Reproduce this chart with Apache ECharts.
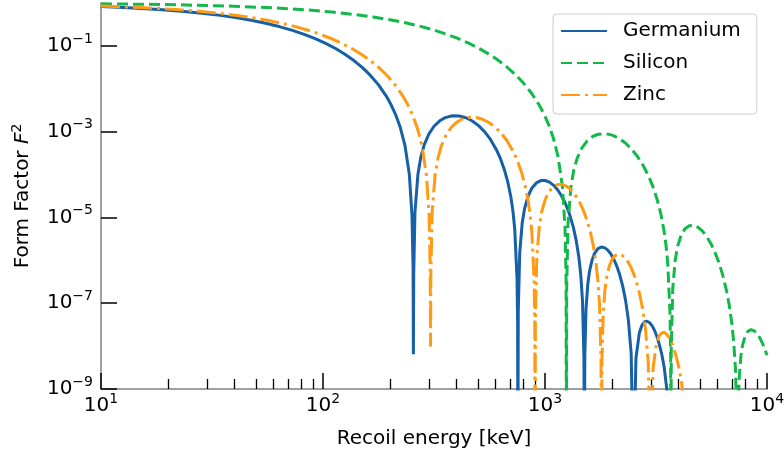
<!DOCTYPE html>
<html>
<head>
<meta charset="utf-8">
<script src="https://cdn.jsdelivr.net/npm/echarts@6/dist/echarts.min.js"></script>
<style>
html,body{margin:0;padding:0;background:#fff;}
#chart{width:784px;height:454px;}
</style>
</head>
<body>
<div id="chart"></div>
<script>
// Recoil energy [keV] and form factor F^2
const germaniumE = [10, 12.65, 18.22, 23.05, 28.46, 34.44, 40.99, 48.10, 55.79, 64.04, 72.86, 82.26, 92.22, 102.75, 113.9, 125.52, 137.8, 150.57, 163.9, 177.89, 192.4, 202.4, 212.6, 223.15, 233.9, 244.9, 251.6, 254.5, 255.4, 256.2, 259.6, 267.7, 275.88, 285.4, 300.02, 316.3, 335.51, 355.3, 382.66, 411.0, 440.35, 470.7, 502.08, 534.5, 567.86, 602.3, 628.74, 655.8, 679.67, 702.1, 717.27, 730.7, 748.1, 752.9, 754.9, 757.8, 769.6, 789.49, 809.6, 840.24, 871.5, 913.96, 957.5, 1002.0, 1047.5, 1094.1, 1141.7, 1190.2, 1239.8, 1290.4, 1342.0, 1381.4, 1421.4, 1448.3, 1475.5, 1497.4, 1504.1, 1511.2, 1530.7, 1558.6, 1586.8, 1629.6, 1673.0, 1731.7, 1791.4, 1852.1, 1913.8, 1976.6, 2046.8, 2105.1, 2170.9, 2237.7, 2305.5, 2374.3, 2444.1, 2502.9, 2568.7, 2659.7, 2733.5, 2808.4, 2884.3, 2961.2, 3039.2, 3118.1, 3198.0, 3279.0, 3361.0, 3443.9, 3613.0];
const germaniumF2 = [0.8286, 0.7878, 0.7079, 0.6444, 0.5795, 0.5146, 0.4509, 0.3896, 0.3318, 0.2782, 0.2294, 0.1857, 0.1475, 0.1145, 0.08674, 0.06386, 0.04547, 0.03110, 0.02023, 0.01232, 0.006837, 0.004290, 0.002465, 0.001234, 4.804e-4, 9.995e-5, 1.153e-5, 7.28e-7, 6.5e-9, 4.44e-7, 1.355e-5, 1.021e-4, 2.563e-4, 4.869e-4, 8.898e-4, 1.337e-3, 1.792e-3, 2.124e-3, 2.347e-3, 2.326e-3, 2.112e-3, 1.774e-3, 1.383e-3, 9.974e-4, 6.588e-4, 3.906e-4, 2.401e-4, 1.313e-4, 6.721e-5, 2.948e-5, 1.384e-5, 5.255e-6, 3.808e-7, 3.18e-8, 1e-11, 6.34e-8, 1.529e-6, 7.450e-6, 1.631e-5, 3.204e-5, 4.777e-5, 6.379e-5, 7.221e-5, 7.263e-5, 6.648e-5, 5.599e-5, 4.350e-5, 3.115e-5, 2.031e-5, 1.183e-5, 5.871e-6, 2.952e-6, 1.162e-6, 4.734e-7, 1.133e-7, 5.44e-9, 1e-11, 5.99e-9, 7.523e-8, 2.776e-7, 5.547e-7, 1.021e-6, 1.453e-6, 1.869e-6, 2.035e-6, 1.980e-6, 1.751e-6, 1.424e-6, 1.032e-6, 7.348e-7, 4.588e-7, 2.539e-7, 1.183e-7, 4.082e-8, 6.76e-9, 1e-11, 5.27e-9, 2.012e-8, 3.071e-8, 3.685e-8, 3.804e-8, 3.513e-8, 2.960e-8, 2.290e-8, 1.634e-8, 1.057e-8, 6.289e-9, 3.18e-9, 3.9e-10];

const siliconE = [10, 15.46, 22.27, 39.58, 61.85, 89.06, 112.72, 139.2, 168.39, 200.4, 235.18, 272.8, 313.12, 356.3, 402.18, 450.9, 502.38, 556.7, 613.71, 673.5, 736.17, 801.6, 869.77, 940.7, 989.6, 1039.7, 1091.0, 1143.6, 1197.4, 1230.3, 1244.1, 1248.8, 1252.5, 1269.2, 1308.8, 1348.9, 1395.5, 1466.9, 1546.3, 1640.4, 1737.4, 1871.0, 2009.5, 2153.0, 2301.4, 2454.8, 2613.2, 2776.4, 2944.7, 3074.1, 3206.3, 3323.1, 3432.8, 3507.0, 3572.5, 3657.6, 3681.4, 3691.1, 3705.3, 3763.0, 3860.1, 3958.4, 4108.2, 4260.8, 4468.7, 4681.4, 4899.1, 5121.8, 5349.4, 5582.0, 5819.5, 6061.9, 6309.3, 6561.7, 6754.2, 6949.5, 7081.2, 7214.2, 7321.4, 7353.9, 7388.9, 7483.9, 7620.5, 7758.5, 7967.7, 8179.7, 8466.6, 8758.6, 9055.5, 9357.3, 9664.1, 10000];
const siliconF2 = [0.9576, 0.9352, 0.9079, 0.8417, 0.7632, 0.6763, 0.6082, 0.5396, 0.4720, 0.4068, 0.3453, 0.2885, 0.2369, 0.1911, 0.1511, 0.1170, 0.08848, 0.06519, 0.04661, 0.03219, 0.02132, 0.01341, 0.007882, 0.004220, 0.002582, 0.001446, 7.051e-4, 2.672e-4, 5.407e-5, 6.14e-6, 3.85e-7, 1e-11, 2.34e-7, 7.065e-6, 5.217e-5, 1.283e-4, 2.380e-4, 4.192e-4, 6.047e-4, 7.724e-4, 8.709e-4, 8.987e-4, 8.296e-4, 6.997e-4, 5.447e-4, 3.925e-4, 2.610e-4, 1.586e-4, 8.622e-5, 4.959e-5, 2.533e-5, 1.222e-5, 5.065e-6, 2.289e-6, 8.404e-7, 5.83e-8, 4.81e-9, 1e-11, 9.47e-9, 2.218e-7, 1.029e-6, 2.140e-6, 3.896e-6, 5.370e-6, 6.444e-6, 6.542e-6, 5.884e-6, 4.806e-6, 3.599e-6, 2.483e-6, 1.574e-6, 9.066e-7, 4.648e-7, 2.027e-7, 9.232e-8, 3.290e-8, 1.252e-8, 2.80e-9, 1.27e-10, 1e-11, 1.35e-10, 1.618e-9, 5.565e-9, 1.036e-8, 1.713e-8, 2.188e-8, 2.427e-8, 2.276e-8, 1.901e-8, 1.442e-8, 1.001e-8, 6.1e-9];

const zincE = [10, 15.11, 21.76, 27.54, 34.0, 41.14, 48.96, 57.46, 66.64, 76.49, 87.03, 98.25, 110.2, 122.73, 136.0, 149.93, 164.5, 179.85, 195.8, 212.48, 229.8, 241.76, 254.0, 266.54, 279.4, 292.5, 300.6, 303.9, 305.1, 306.0, 310.1, 319.7, 329.53, 340.9, 358.36, 377.8, 400.75, 424.4, 457.08, 490.9, 525.98, 562.2, 599.72, 638.4, 678.29, 719.4, 751.0, 783.3, 811.84, 838.6, 856.75, 872.7, 893.5, 899.4, 901.8, 905.2, 919.3, 943.02, 967.0, 1003.6, 1040.9, 1091.7, 1143.7, 1196.9, 1251.3, 1306.9, 1363.7, 1421.7, 1480.9, 1541.4, 1603.0, 1650.1, 1697.8, 1729.9, 1762.4, 1788.6, 1796.6, 1805.1, 1828.3, 1861.7, 1895.4, 1946.5, 1998.3, 2068.4, 2139.7, 2212.3, 2286.0, 2360.9, 2444.8, 2514.5, 2593.0, 2672.8, 2753.8, 2836.0, 2919.4, 2989.6, 3068.3, 3176.9, 3265.1, 3354.6, 3445.2, 3537.1, 3630.2, 3724.5, 3820.0, 3916.7, 4014.6, 4113.7, 4315.6];
const zincF2 = [0.8530, 0.7857, 0.7052, 0.6413, 0.5760, 0.5108, 0.4470, 0.3857, 0.3279, 0.2744, 0.2259, 0.1825, 0.1446, 0.1120, 0.08467, 0.06218, 0.04417, 0.03013, 0.01954, 0.01186, 0.006564, 0.004110, 0.002357, 0.001177, 4.572e-4, 9.489e-5, 1.094e-5, 6.90e-7, 9.8e-9, 4.21e-7, 1.282e-5, 9.647e-5, 2.417e-4, 4.584e-4, 8.350e-4, 1.250e-3, 1.669e-3, 1.970e-3, 2.164e-3, 2.132e-3, 1.924e-3, 1.606e-3, 1.243e-3, 8.905e-4, 5.842e-4, 3.438e-4, 2.101e-4, 1.142e-4, 5.819e-5, 2.540e-5, 1.189e-5, 4.501e-6, 3.250e-7, 2.71e-8, 1e-11, 5.40e-8, 1.299e-6, 6.302e-6, 1.374e-5, 2.682e-5, 3.972e-5, 5.255e-5, 5.897e-5, 5.876e-5, 5.326e-5, 4.439e-5, 3.417e-5, 2.421e-5, 1.563e-5, 8.998e-6, 4.421e-6, 2.203e-6, 8.606e-7, 3.483e-7, 8.289e-8, 3.97e-9, 1e-11, 4.35e-9, 5.440e-8, 1.995e-7, 3.964e-7, 7.228e-7, 1.020e-6, 1.295e-6, 1.392e-6, 1.337e-6, 1.168e-6, 9.364e-7, 6.693e-7, 4.705e-7, 2.897e-7, 1.581e-7, 7.253e-8, 2.469e-8, 4.03e-9, 1e-11, 3.06e-9, 1.145e-8, 1.722e-8, 2.032e-8, 2.066e-8, 1.877e-8, 1.555e-8, 1.182e-8, 8.297e-9, 5.27e-9, 3.088e-9, 1.535e-9, 1.83e-10];

const seriesNames = ['Germanium', 'Silicon', 'Zinc'];
const xMajorTicks = [10, 100, 1000, 10000];
const xMinorTicks = [20, 30, 40, 50, 60, 70, 80, 90, 200, 300, 400, 500, 600, 700, 800, 900, 2000, 3000, 4000, 5000, 6000, 7000, 8000, 9000];
const yTicks = [1e-9, 1e-7, 1e-5, 1e-3, 1e-1];

const FONT = 'DejaVu Sans';
const pairs = (xs, ys) => xs.map((x, i) => [x, ys[i]]);
const powLabel = v => {
  const e = Math.round(Math.log10(v));
  return '{b|10}{s|' + (e < 0 ? '\u2212' + (-e) : e) + '}';
};
const powRich = {
  b: {fontFamily: FONT, fontSize: 20, color: '#000', lineHeight: 28},
  s: {fontFamily: FONT, fontSize: 14, color: '#000', lineHeight: 14, verticalAlign: 'top'}
};
const lineSeries = (name, xs, ys, color, type) => ({
  name, type: 'line', data: pairs(xs, ys), showSymbol: false, symbol: 'none',
  color, lineStyle: {color, width: 3, type}, clip: true
});

const chart = echarts.init(document.getElementById('chart'), null, {renderer: 'canvas'});
chart.setOption({
  animation: false,
  backgroundColor: '#fff',
  grid: {left: 101, right: 17, top: 3, bottom: 65, outerBoundsMode: 'none'},
  legend: {
    data: seriesNames,
    orient: 'vertical',
    left: 553, top: 14,
    padding: [5, 16, 7, 7],
    itemWidth: 46, itemHeight: 14, itemGap: 8,
    itemStyle: {opacity: 0},
    backgroundColor: 'rgba(255,255,255,0.8)',
    borderColor: '#cccccc', borderWidth: 1, borderRadius: 4,
    textStyle: {fontFamily: FONT, fontSize: 20, color: '#000', lineHeight: 24, padding: [0, 0, 0, 11]}
  },
  xAxis: [{
    type: 'log', logBase: 10, min: 10, max: 10000, position: 'bottom',
    name: 'Recoil energy [keV]', nameLocation: 'middle', nameGap: 40,
    nameTextStyle: {fontFamily: FONT, fontSize: 20, color: '#000'},
    axisLine: {lineStyle: {color: '#808080', width: 1.5}},
    axisTick: {inside: true, length: 16, customValues: xMajorTicks, lineStyle: {color: '#000', width: 1.5}},
    axisLabel: {customValues: xMajorTicks, margin: 3, formatter: powLabel, rich: powRich},
    splitLine: {show: false}, minorTick: {show: false}
  }, {
    type: 'log', logBase: 10, min: 10, max: 10000, position: 'bottom',
    axisLine: {show: false},
    axisTick: {inside: true, length: 10, customValues: xMinorTicks, lineStyle: {color: '#000', width: 1.3}},
    axisLabel: {show: false}, splitLine: {show: false}
  }],
  yAxis: {
    type: 'log', logBase: 10, min: 1e-9, max: 1,
    name: '{a|Form Factor }{i|F}{s|2}', nameLocation: 'middle', nameGap: 65, nameRotate: 90,
    nameTextStyle: {rich: {
      a: {fontFamily: FONT, fontSize: 20, color: '#000', lineHeight: 26},
      i: {fontFamily: FONT, fontSize: 20, fontStyle: 'italic', color: '#000', lineHeight: 26},
      s: {fontFamily: FONT, fontSize: 14, color: '#000', lineHeight: 14, verticalAlign: 'top'}
    }},
    axisLine: {lineStyle: {color: '#808080', width: 1.5}},
    axisTick: {inside: true, length: 16, customValues: yTicks, lineStyle: {color: '#000', width: 1.5}},
    axisLabel: {customValues: yTicks, margin: 8, formatter: powLabel, rich: powRich},
    splitLine: {show: false}, minorTick: {show: false}
  },
  series: [
    lineSeries(seriesNames[0], germaniumE, germaniumF2, '#1660a8', 'solid'),
    lineSeries(seriesNames[1], siliconE, siliconF2, '#11b84a', [11, 5]),
    lineSeries(seriesNames[2], zincE, zincF2, '#ff9a12', [19, 5, 3, 5])
  ]
});
</script>
</body>
</html>
